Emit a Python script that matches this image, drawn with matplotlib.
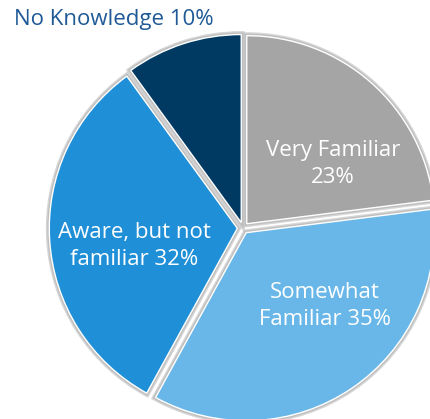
import matplotlib
matplotlib.use("Agg")
import matplotlib.pyplot as plt
import matplotlib.patheffects as pe

categories = ["Very Familiar", "Somewhat Familiar", "Aware, but not familiar", "No Knowledge"]
values = [23, 35, 32, 10]
labels = ["Very Familiar\n23%", "Somewhat\nFamiliar 35%", "Aware, but not\nfamiliar 32%", "No Knowledge 10%"]
colors = ["#A5A5A5", "#69B7E8", "#1F8FD7", "#003A63"]

plt.rcParams['font.family'] = ['Open Sans', 'DejaVu Sans']

fig = plt.figure(figsize=(4.30, 4.19), dpi=100)
ax = fig.add_axes([0, 0, 1, 1])
ax.set_axis_off()

s = 189.0

wedges, _ = ax.pie(values, colors=colors, startangle=90, counterclock=False,
                   explode=[0.03] * 4, radius=0.995,
                   wedgeprops=dict(edgecolor='white', linewidth=1.0))
for w in wedges:
    w.set_path_effects([pe.Stroke(linewidth=5, foreground='#bcbcbc', alpha=0.6),
                        pe.Stroke(linewidth=3, foreground='#b0b0b0', alpha=0.6),
                        pe.Normal()])

ax.set_aspect('auto')
ax.set_xlim(-243 / s, (430 - 243) / s)
ax.set_ylim(-(419 - 228) / s, 228 / s)

fs = 16
pos = [(0.476, 0.339), (0.434, -0.413), (-0.577, -0.095)]
for (x, y), lab in zip(pos, labels[:3]):
    ax.text(x, y, lab, ha='center', va='center', color='white', fontsize=fs,
            linespacing=1.35)

ax.text(-229 / s, 208 / s, labels[3], ha='left', va='center', color='#1F5A97', fontsize=fs)

fig.savefig("out.png", dpi=100)
